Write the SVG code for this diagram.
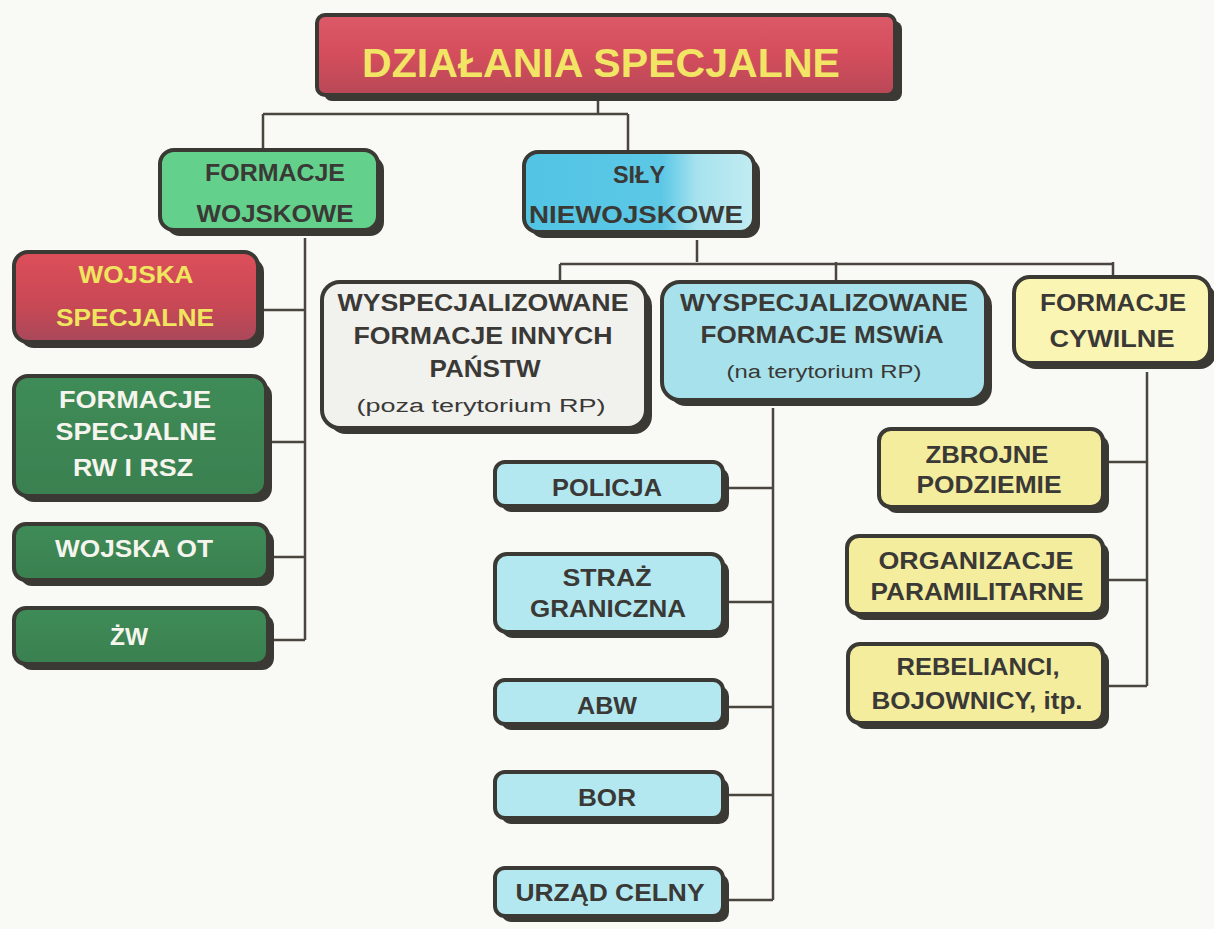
<svg xmlns="http://www.w3.org/2000/svg" width="1214" height="929" viewBox="0 0 1214 929">
  <defs>
    <linearGradient id="gRed" x1="0" y1="0" x2="0" y2="1">
      <stop offset="0" stop-color="#dc5a68"/>
      <stop offset="0.5" stop-color="#d44d5c"/>
      <stop offset="1" stop-color="#b84857"/>
    </linearGradient>
    <linearGradient id="gRedSmall" x1="0" y1="0" x2="0" y2="1">
      <stop offset="0" stop-color="#dc4f5a"/>
      <stop offset="0.6" stop-color="#c84855"/>
      <stop offset="1" stop-color="#a8485a"/>
    </linearGradient>
    <linearGradient id="gCyan" x1="0" y1="0" x2="1" y2="0">
      <stop offset="0" stop-color="#52c4e4"/>
      <stop offset="0.6" stop-color="#5cc8e6"/>
      <stop offset="0.75" stop-color="#a6e2ee"/>
      <stop offset="1" stop-color="#c2ecf2"/>
    </linearGradient>
    <linearGradient id="gDark" x1="0" y1="0" x2="0" y2="1">
      <stop offset="0" stop-color="#3f8c58"/>
      <stop offset="1" stop-color="#3a8050"/>
    </linearGradient>
    <style>
      .bg { fill: #f9f9f5; }
      .sh { fill: #3b3934; }
      .box { stroke: #3b3934; stroke-width: 4; }
      .conn { fill: none; stroke: #4a463f; stroke-width: 2.5; }
      text { font-family: "Liberation Sans", Arial, sans-serif; font-weight: bold; text-anchor: middle; }
      .dk { fill: #3a3936; font-size: 24px; }
      .sm { fill: #3a3936; font-size: 18px; font-weight: normal; }
      .yl { fill: #f0e55e; font-size: 24px; }
      .wh { fill: #f5f5ee; font-size: 24px; }
      .title { fill: #f2e565; font-size: 41px; }
    </style>
  </defs>

  <rect class="bg" x="0" y="0" width="1214" height="929"/>

  <!-- connectors -->
  <g id="connectors">
    <path class="conn" d="M598 101 V114 M263 114 H628 M263 114 V152 M628 114 V154"/>
    <path class="conn" d="M305 238 V640 M262 310 H305 M270 442 H305 M272 557 H305 M272 640 H305"/>
    <path class="conn" d="M697 240 V262 M560 264 H1113 M560 264 V284 M836 262 V284 M1113 262 V279"/>
    <path class="conn" d="M773 408 V900 M725 488 H773 M725 602 H773 M725 707 H773 M725 795 H773 M725 900 H773"/>
    <path class="conn" d="M1147 372 V686 M1107 462 H1147 M1107 580 H1147 M1107 686 H1147"/>
  </g>

  <!-- title -->
  <g id="n-title">
    <rect class="sh" x="324" y="21" width="578" height="80" rx="8"/>
    <rect class="box" x="317" y="15" width="578" height="80" rx="8" fill="url(#gRed)"/>
    <text class="title" x="601" y="77" textLength="478" lengthAdjust="spacingAndGlyphs">DZIAŁANIA SPECJALNE</text>
  </g>

  <!-- level 1 -->
  <g id="n-formacje-wojskowe">
    <rect class="sh" x="166" y="156" width="218" height="80" rx="14"/>
    <rect class="box" x="160" y="150" width="218" height="80" rx="14" fill="#63d18c"/>
    <text class="dk" x="275" y="181" textLength="140" lengthAdjust="spacingAndGlyphs">FORMACJE</text>
    <text class="dk" x="275" y="222" textLength="157" lengthAdjust="spacingAndGlyphs">WOJSKOWE</text>
  </g>
  <g id="n-sily-niewojskowe">
    <rect class="sh" x="530" y="158" width="230" height="80" rx="14"/>
    <rect class="box" x="524" y="152" width="230" height="80" rx="14" fill="url(#gCyan)"/>
    <text class="dk" x="639" y="183" textLength="52" lengthAdjust="spacingAndGlyphs">SIŁY</text>
    <text class="dk" x="636" y="223" textLength="214" lengthAdjust="spacingAndGlyphs">NIEWOJSKOWE</text>
  </g>

  <!-- military branch -->
  <g id="n-wojska-specjalne">
    <rect class="sh" x="20" y="258" width="244" height="90" rx="14"/>
    <rect class="box" x="14" y="252" width="244" height="90" rx="14" fill="url(#gRedSmall)"/>
    <text class="yl" x="136" y="283" textLength="115" lengthAdjust="spacingAndGlyphs">WOJSKA</text>
    <text class="yl" x="135" y="326" textLength="158" lengthAdjust="spacingAndGlyphs">SPECJALNE</text>
  </g>
  <g id="n-formacje-specjalne">
    <rect class="sh" x="20" y="382" width="252" height="120" rx="14"/>
    <rect class="box" x="14" y="376" width="252" height="120" rx="14" fill="url(#gDark)"/>
    <text class="wh" x="135" y="408" textLength="152" lengthAdjust="spacingAndGlyphs">FORMACJE</text>
    <text class="wh" x="136" y="440" textLength="161" lengthAdjust="spacingAndGlyphs">SPECJALNE</text>
    <text class="wh" x="133" y="476" textLength="120" lengthAdjust="spacingAndGlyphs">RW I RSZ</text>
  </g>
  <g id="n-wojska-ot">
    <rect class="sh" x="20" y="530" width="254" height="56" rx="12"/>
    <rect class="box" x="14" y="524" width="254" height="56" rx="12" fill="url(#gDark)"/>
    <text class="wh" x="134" y="557" textLength="158" lengthAdjust="spacingAndGlyphs">WOJSKA OT</text>
  </g>
  <g id="n-zw">
    <rect class="sh" x="20" y="614" width="254" height="56" rx="12"/>
    <rect class="box" x="14" y="608" width="254" height="56" rx="12" fill="url(#gDark)"/>
    <text class="wh" x="129" y="645" textLength="38" lengthAdjust="spacingAndGlyphs">ŻW</text>
  </g>

  <!-- non-military branch -->
  <g id="n-formacje-innych-panstw">
    <rect class="sh" x="328" y="288" width="324" height="146" rx="18"/>
    <rect class="box" x="322" y="282" width="324" height="146" rx="18" fill="#f1f1ee"/>
    <text class="dk" x="483" y="311" textLength="291" lengthAdjust="spacingAndGlyphs">WYSPECJALIZOWANE</text>
    <text class="dk" x="483" y="344" textLength="259" lengthAdjust="spacingAndGlyphs">FORMACJE INNYCH</text>
    <text class="dk" x="485" y="377" textLength="111" lengthAdjust="spacingAndGlyphs">PAŃSTW</text>
    <text class="sm" x="481" y="412" textLength="249" lengthAdjust="spacingAndGlyphs">(poza terytorium RP)</text>
  </g>
  <g id="n-formacje-mswia">
    <rect class="sh" x="668" y="288" width="324" height="118" rx="18"/>
    <rect class="box" x="662" y="282" width="324" height="118" rx="18" fill="#a7e2ec"/>
    <text class="dk" x="824" y="311" textLength="288" lengthAdjust="spacingAndGlyphs">WYSPECJALIZOWANE</text>
    <text class="dk" x="822" y="343" textLength="243" lengthAdjust="spacingAndGlyphs">FORMACJE MSWiA</text>
    <text class="sm" x="824" y="378" textLength="195" lengthAdjust="spacingAndGlyphs">(na terytorium RP)</text>
  </g>
  <g id="n-formacje-cywilne">
    <rect class="sh" x="1020" y="283" width="196" height="86" rx="16"/>
    <rect class="box" x="1014" y="277" width="196" height="86" rx="16" fill="#faf5b2" stroke="#faf5b2"/>
    <text class="dk" x="1113" y="311" textLength="146" lengthAdjust="spacingAndGlyphs">FORMACJE</text>
    <text class="dk" x="1112" y="347" textLength="125" lengthAdjust="spacingAndGlyphs">CYWILNE</text>
  </g>

  <!-- MSWiA units -->
  <g id="n-policja">
    <rect class="sh" x="501" y="468" width="228" height="44" rx="10"/>
    <rect class="box" x="495" y="462" width="228" height="44" rx="10" fill="#b3e8f0"/>
    <text class="dk" x="607" y="496" textLength="110" lengthAdjust="spacingAndGlyphs">POLICJA</text>
  </g>
  <g id="n-straz-graniczna">
    <rect class="sh" x="501" y="560" width="228" height="78" rx="12"/>
    <rect class="box" x="495" y="554" width="228" height="78" rx="12" fill="#b3e8f0"/>
    <text class="dk" x="607" y="586" textLength="89" lengthAdjust="spacingAndGlyphs">STRAŻ</text>
    <text class="dk" x="608" y="617" textLength="156" lengthAdjust="spacingAndGlyphs">GRANICZNA</text>
  </g>
  <g id="n-abw">
    <rect class="sh" x="501" y="686" width="228" height="44" rx="10"/>
    <rect class="box" x="495" y="680" width="228" height="44" rx="10" fill="#b3e8f0"/>
    <text class="dk" x="607" y="714" textLength="60" lengthAdjust="spacingAndGlyphs">ABW</text>
  </g>
  <g id="n-bor">
    <rect class="sh" x="501" y="778" width="228" height="46" rx="10"/>
    <rect class="box" x="495" y="772" width="228" height="46" rx="10" fill="#b3e8f0"/>
    <text class="dk" x="607" y="806" textLength="58" lengthAdjust="spacingAndGlyphs">BOR</text>
  </g>
  <g id="n-urzad-celny">
    <rect class="sh" x="501" y="874" width="228" height="48" rx="10"/>
    <rect class="box" x="495" y="868" width="228" height="48" rx="10" fill="#b3e8f0"/>
    <text class="dk" x="610" y="901" textLength="189" lengthAdjust="spacingAndGlyphs">URZĄD CELNY</text>
  </g>

  <!-- civil formations -->
  <g id="n-zbrojne-podziemie">
    <rect class="sh" x="885" y="435" width="224" height="78" rx="12"/>
    <rect class="box" x="879" y="429" width="224" height="78" rx="12" fill="#f4ed9e"/>
    <text class="dk" x="987" y="463" textLength="123" lengthAdjust="spacingAndGlyphs">ZBROJNE</text>
    <text class="dk" x="989" y="493" textLength="145" lengthAdjust="spacingAndGlyphs">PODZIEMIE</text>
  </g>
  <g id="n-organizacje-paramilitarne">
    <rect class="sh" x="853" y="542" width="256" height="78" rx="12"/>
    <rect class="box" x="847" y="536" width="256" height="78" rx="12" fill="#f4ed9e"/>
    <text class="dk" x="976" y="569" textLength="195" lengthAdjust="spacingAndGlyphs">ORGANIZACJE</text>
    <text class="dk" x="977" y="600" textLength="213" lengthAdjust="spacingAndGlyphs">PARAMILITARNE</text>
  </g>
  <g id="n-rebelianci">
    <rect class="sh" x="854" y="650" width="255" height="79" rx="12"/>
    <rect class="box" x="848" y="644" width="255" height="79" rx="12" fill="#f4ed9e"/>
    <text class="dk" x="978" y="675" textLength="163" lengthAdjust="spacingAndGlyphs">REBELIANCI,</text>
    <text class="dk" x="977" y="709" textLength="211" lengthAdjust="spacingAndGlyphs">BOJOWNICY, itp.</text>
  </g>
</svg>
